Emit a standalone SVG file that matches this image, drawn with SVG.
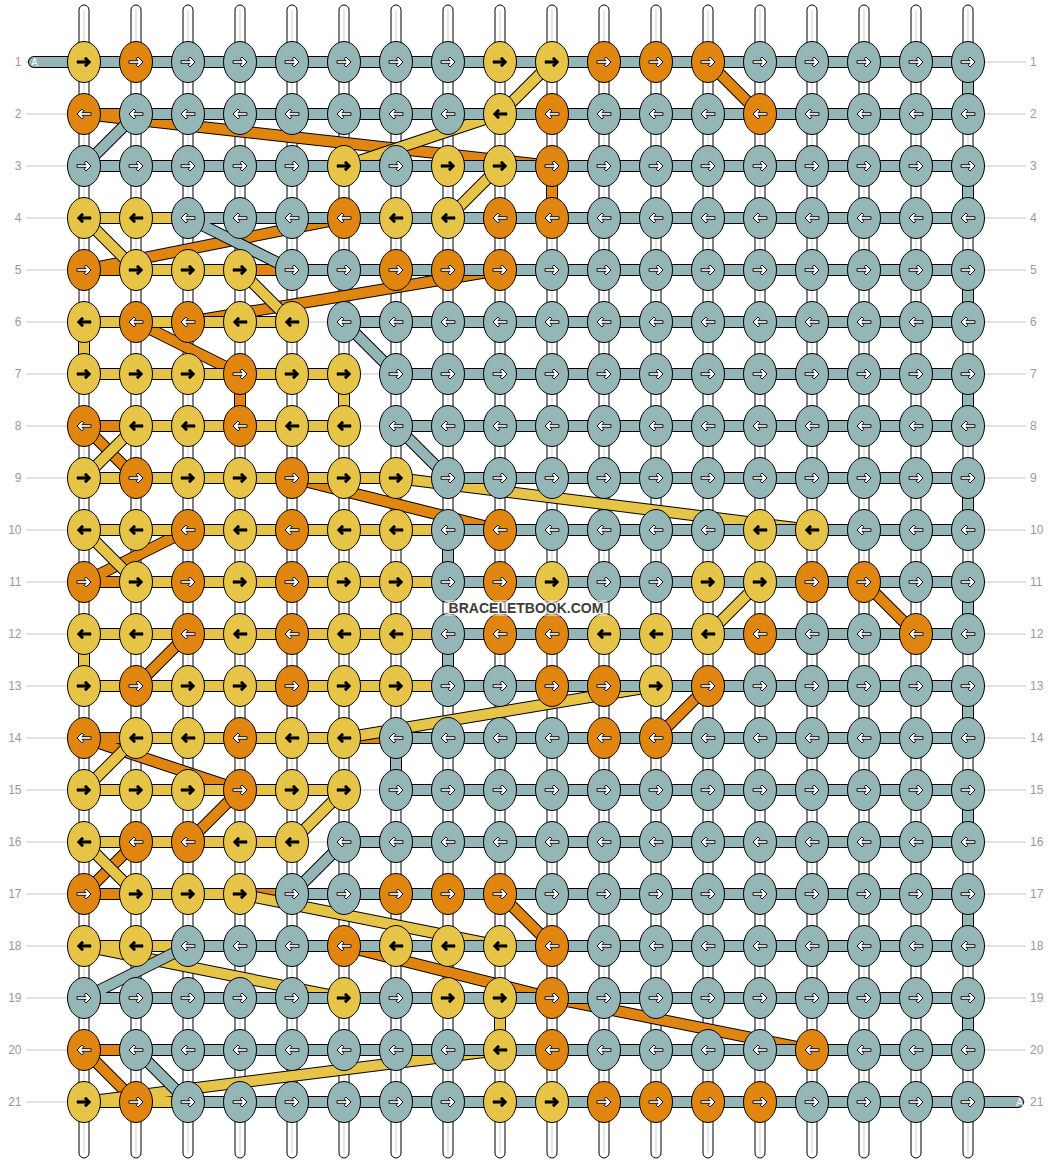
<svg xmlns="http://www.w3.org/2000/svg" xmlns:xlink="http://www.w3.org/1999/xlink" width="1052" height="1164" viewBox="0 0 1052 1164">
<style>
.guide{stroke:#c4c4c4;stroke-width:1}
.lbl{font-family:"Liberation Sans",Arial,sans-serif;font-size:12px;fill:#999}
.str{fill:#fff;stroke:#000;stroke-width:1}
.strc{stroke:#cfcfcf;stroke-width:1}
.to{fill:none;stroke:#000;stroke-width:12;stroke-linejoin:round}
.tf{fill:none;stroke-width:10;stroke-linejoin:round}
.ty{stroke:#E6C447}
.tor{stroke:#E0850F}
.tg{stroke:#95B6B7}
.cap{stroke-linecap:round}
.alab{font-family:"Liberation Sans",Arial,sans-serif;font-size:10px;fill:#fff}
.wm{font-family:"Liberation Sans",Arial,sans-serif;font-size:14px;font-weight:bold;fill:#3c3c3c;stroke:#fff;stroke-width:2;paint-order:stroke}
</style>
<defs>
<ellipse id="e" rx="16.5" ry="20.5" stroke="#000" stroke-width="1"/>
<polygon id="ar" points="-7,-1.3 2.02,-1.3 0.16,-3.16 2,-5 7,0 2,5 0.16,3.16 2.02,1.3 -7,1.3"/>
<polygon id="al" points="7,-1.3 -2.02,-1.3 -0.16,-3.16 -2,-5 -7,0 -2,5 -0.16,3.16 -2.02,1.3 7,1.3"/>
<g id="Yr"><use href="#e" fill="#E6C447"/><use href="#ar" fill="#000" stroke="#000" stroke-width="0.5"/></g>
<g id="Yl"><use href="#e" fill="#E6C447"/><use href="#al" fill="#000" stroke="#000" stroke-width="0.5"/></g>
<g id="Or"><use href="#e" fill="#E0850F"/><use href="#ar" fill="#fff" stroke="#000" stroke-width="0.9"/></g>
<g id="Ol"><use href="#e" fill="#E0850F"/><use href="#al" fill="#fff" stroke="#000" stroke-width="0.9"/></g>
<g id="Gr"><use href="#e" fill="#95B6B7"/><use href="#ar" fill="#fff" stroke="#000" stroke-width="0.9"/></g>
<g id="Gl"><use href="#e" fill="#95B6B7"/><use href="#al" fill="#fff" stroke="#000" stroke-width="0.9"/></g>
</defs>
<rect width="1052" height="1164" fill="#fff"/>
<g id="guides">
<line class="guide" x1="26" x2="1026" y1="62" y2="62"/><line class="guide" x1="26" x2="1026" y1="114" y2="114"/><line class="guide" x1="26" x2="1026" y1="166" y2="166"/><line class="guide" x1="26" x2="1026" y1="218" y2="218"/><line class="guide" x1="26" x2="1026" y1="270" y2="270"/><line class="guide" x1="26" x2="1026" y1="322" y2="322"/><line class="guide" x1="26" x2="1026" y1="374" y2="374"/><line class="guide" x1="26" x2="1026" y1="426" y2="426"/><line class="guide" x1="26" x2="1026" y1="478" y2="478"/><line class="guide" x1="26" x2="1026" y1="530" y2="530"/><line class="guide" x1="26" x2="1026" y1="582" y2="582"/><line class="guide" x1="26" x2="1026" y1="634" y2="634"/><line class="guide" x1="26" x2="1026" y1="686" y2="686"/><line class="guide" x1="26" x2="1026" y1="738" y2="738"/><line class="guide" x1="26" x2="1026" y1="790" y2="790"/><line class="guide" x1="26" x2="1026" y1="842" y2="842"/><line class="guide" x1="26" x2="1026" y1="894" y2="894"/><line class="guide" x1="26" x2="1026" y1="946" y2="946"/><line class="guide" x1="26" x2="1026" y1="998" y2="998"/><line class="guide" x1="26" x2="1026" y1="1050" y2="1050"/><line class="guide" x1="26" x2="1026" y1="1102" y2="1102"/>
</g>
<g id="labels">
<text class="lbl" text-anchor="end" x="21.5" y="66.3">1</text><text class="lbl" text-anchor="end" x="21.5" y="118.3">2</text><text class="lbl" text-anchor="end" x="21.5" y="170.3">3</text><text class="lbl" text-anchor="end" x="21.5" y="222.3">4</text><text class="lbl" text-anchor="end" x="21.5" y="274.3">5</text><text class="lbl" text-anchor="end" x="21.5" y="326.3">6</text><text class="lbl" text-anchor="end" x="21.5" y="378.3">7</text><text class="lbl" text-anchor="end" x="21.5" y="430.3">8</text><text class="lbl" text-anchor="end" x="21.5" y="482.3">9</text><text class="lbl" text-anchor="end" x="21.5" y="534.3">10</text><text class="lbl" text-anchor="end" x="21.5" y="586.3">11</text><text class="lbl" text-anchor="end" x="21.5" y="638.3">12</text><text class="lbl" text-anchor="end" x="21.5" y="690.3">13</text><text class="lbl" text-anchor="end" x="21.5" y="742.3">14</text><text class="lbl" text-anchor="end" x="21.5" y="794.3">15</text><text class="lbl" text-anchor="end" x="21.5" y="846.3">16</text><text class="lbl" text-anchor="end" x="21.5" y="898.3">17</text><text class="lbl" text-anchor="end" x="21.5" y="950.3">18</text><text class="lbl" text-anchor="end" x="21.5" y="1002.3">19</text><text class="lbl" text-anchor="end" x="21.5" y="1054.3">20</text><text class="lbl" text-anchor="end" x="21.5" y="1106.3">21</text>
<text class="lbl" x="1030" y="66.3">1</text><text class="lbl" x="1030" y="118.3">2</text><text class="lbl" x="1030" y="170.3">3</text><text class="lbl" x="1030" y="222.3">4</text><text class="lbl" x="1030" y="274.3">5</text><text class="lbl" x="1030" y="326.3">6</text><text class="lbl" x="1030" y="378.3">7</text><text class="lbl" x="1030" y="430.3">8</text><text class="lbl" x="1030" y="482.3">9</text><text class="lbl" x="1030" y="534.3">10</text><text class="lbl" x="1030" y="586.3">11</text><text class="lbl" x="1030" y="638.3">12</text><text class="lbl" x="1030" y="690.3">13</text><text class="lbl" x="1030" y="742.3">14</text><text class="lbl" x="1030" y="794.3">15</text><text class="lbl" x="1030" y="846.3">16</text><text class="lbl" x="1030" y="898.3">17</text><text class="lbl" x="1030" y="950.3">18</text><text class="lbl" x="1030" y="1002.3">19</text><text class="lbl" x="1030" y="1054.3">20</text><text class="lbl" x="1030" y="1106.3">21</text>
</g>
<g id="strings">
<rect class="str" x="79" y="5" width="10" height="1153" rx="5"/><rect class="str" x="131" y="5" width="10" height="1153" rx="5"/><rect class="str" x="183" y="5" width="10" height="1153" rx="5"/><rect class="str" x="235" y="5" width="10" height="1153" rx="5"/><rect class="str" x="287" y="5" width="10" height="1153" rx="5"/><rect class="str" x="339" y="5" width="10" height="1153" rx="5"/><rect class="str" x="391" y="5" width="10" height="1153" rx="5"/><rect class="str" x="443" y="5" width="10" height="1153" rx="5"/><rect class="str" x="495" y="5" width="10" height="1153" rx="5"/><rect class="str" x="547" y="5" width="10" height="1153" rx="5"/><rect class="str" x="599" y="5" width="10" height="1153" rx="5"/><rect class="str" x="651" y="5" width="10" height="1153" rx="5"/><rect class="str" x="703" y="5" width="10" height="1153" rx="5"/><rect class="str" x="755" y="5" width="10" height="1153" rx="5"/><rect class="str" x="807" y="5" width="10" height="1153" rx="5"/><rect class="str" x="859" y="5" width="10" height="1153" rx="5"/><rect class="str" x="911" y="5" width="10" height="1153" rx="5"/><rect class="str" x="963" y="5" width="10" height="1153" rx="5"/>
<path class="strc" d="M84,10V1153M136,10V1153M188,10V1153M240,10V1153M292,10V1153M344,10V1153M396,10V1153M448,10V1153M500,10V1153M552,10V1153M604,10V1153M656,10V1153M708,10V1153M760,10V1153M812,10V1153M864,10V1153M916,10V1153M968,10V1153"/>
</g>
<g id="connectors">
<polyline class="to" points="136,62 708,62 760,114 84,114 552,166 552,218 344,218 84,270 500,270 188,322 136,322 240,374 240,426 84,426 136,478 292,478 500,530 188,530 84,582 864,582 916,634 188,634 136,686 708,686 656,738 84,738 240,790 188,842 136,842 84,894 500,894 552,946 344,946 552,998 812,1050 84,1050 136,1102 760,1102"/>
<polyline class="tf tor" points="136,62 708,62 760,114 84,114 552,166 552,218 344,218 84,270 500,270 188,322 136,322 240,374 240,426 84,426 136,478 292,478 500,530 188,530 84,582 864,582 916,634 188,634 136,686 708,686 656,738 84,738 240,790 188,842 136,842 84,894 500,894 552,946 344,946 552,998 812,1050 84,1050 136,1102 760,1102"/>
<polyline class="to" points="84,62 552,62 500,114 344,166 500,166 448,218 84,218 136,270 240,270 292,322 84,322 84,374 344,374 344,426 136,426 84,478 396,478 812,530 84,530 136,582 760,582 708,634 84,634 84,686 656,686 344,738 136,738 84,790 344,790 292,842 84,842 136,894 240,894 500,946 84,946 344,998 500,998 500,1050 84,1102 552,1102"/>
<polyline class="tf ty" points="84,62 552,62 500,114 344,166 500,166 448,218 84,218 136,270 240,270 292,322 84,322 84,374 344,374 344,426 136,426 84,478 396,478 812,530 84,530 136,582 760,582 708,634 84,634 84,686 656,686 344,738 136,738 84,790 344,790 292,842 84,842 136,894 240,894 500,946 84,946 344,998 500,998 500,1050 84,1102 552,1102"/>
<polyline class="to cap" points="34,62 968,62 968,114 136,114 84,166 968,166 968,218 188,218 292,270 968,270 968,322 344,322 396,374 968,374 968,426 396,426 448,478 968,478 968,530 448,530 448,582 968,582 968,634 448,634 448,686 968,686 968,738 396,738 396,790 968,790 968,842 344,842 292,894 968,894 968,946 188,946 84,998 968,998 968,1050 136,1050 188,1102 1018,1102"/>
<polyline class="tf tg cap" points="34,62 968,62 968,114 136,114 84,166 968,166 968,218 188,218 292,270 968,270 968,322 344,322 396,374 968,374 968,426 396,426 448,478 968,478 968,530 448,530 448,582 968,582 968,634 448,634 448,686 968,686 968,738 396,738 396,790 968,790 968,842 344,842 292,894 968,894 968,946 188,946 84,998 968,998 968,1050 136,1050 188,1102 1018,1102"/>
<text class="alab" x="34.5" y="65.7" text-anchor="middle">A</text>
<text class="alab" x="1019.5" y="1105.7" text-anchor="middle">A</text>
</g>
<g id="nodes">
<g id="k1-1"><use href="#Yr" x="84" y="62"/></g><g id="k1-2"><use href="#Or" x="136" y="62"/></g><g id="k1-3"><use href="#Gr" x="188" y="62"/></g><g id="k1-4"><use href="#Gr" x="240" y="62"/></g><g id="k1-5"><use href="#Gr" x="292" y="62"/></g><g id="k1-6"><use href="#Gr" x="344" y="62"/></g><g id="k1-7"><use href="#Gr" x="396" y="62"/></g><g id="k1-8"><use href="#Gr" x="448" y="62"/></g><g id="k1-9"><use href="#Yr" x="500" y="62"/></g><g id="k1-10"><use href="#Yr" x="552" y="62"/></g><g id="k1-11"><use href="#Or" x="604" y="62"/></g><g id="k1-12"><use href="#Or" x="656" y="62"/></g><g id="k1-13"><use href="#Or" x="708" y="62"/></g><g id="k1-14"><use href="#Gr" x="760" y="62"/></g><g id="k1-15"><use href="#Gr" x="812" y="62"/></g><g id="k1-16"><use href="#Gr" x="864" y="62"/></g><g id="k1-17"><use href="#Gr" x="916" y="62"/></g><g id="k1-18"><use href="#Gr" x="968" y="62"/></g>
<g id="k2-1"><use href="#Ol" x="84" y="114"/></g><g id="k2-2"><use href="#Gl" x="136" y="114"/></g><g id="k2-3"><use href="#Gl" x="188" y="114"/></g><g id="k2-4"><use href="#Gl" x="240" y="114"/></g><g id="k2-5"><use href="#Gl" x="292" y="114"/></g><g id="k2-6"><use href="#Gl" x="344" y="114"/></g><g id="k2-7"><use href="#Gl" x="396" y="114"/></g><g id="k2-8"><use href="#Gl" x="448" y="114"/></g><g id="k2-9"><use href="#Yl" x="500" y="114"/></g><g id="k2-10"><use href="#Ol" x="552" y="114"/></g><g id="k2-11"><use href="#Gl" x="604" y="114"/></g><g id="k2-12"><use href="#Gl" x="656" y="114"/></g><g id="k2-13"><use href="#Gl" x="708" y="114"/></g><g id="k2-14"><use href="#Ol" x="760" y="114"/></g><g id="k2-15"><use href="#Gl" x="812" y="114"/></g><g id="k2-16"><use href="#Gl" x="864" y="114"/></g><g id="k2-17"><use href="#Gl" x="916" y="114"/></g><g id="k2-18"><use href="#Gl" x="968" y="114"/></g>
<g id="k3-1"><use href="#Gr" x="84" y="166"/></g><g id="k3-2"><use href="#Gr" x="136" y="166"/></g><g id="k3-3"><use href="#Gr" x="188" y="166"/></g><g id="k3-4"><use href="#Gr" x="240" y="166"/></g><g id="k3-5"><use href="#Gr" x="292" y="166"/></g><g id="k3-6"><use href="#Yr" x="344" y="166"/></g><g id="k3-7"><use href="#Gr" x="396" y="166"/></g><g id="k3-8"><use href="#Yr" x="448" y="166"/></g><g id="k3-9"><use href="#Yr" x="500" y="166"/></g><g id="k3-10"><use href="#Or" x="552" y="166"/></g><g id="k3-11"><use href="#Gr" x="604" y="166"/></g><g id="k3-12"><use href="#Gr" x="656" y="166"/></g><g id="k3-13"><use href="#Gr" x="708" y="166"/></g><g id="k3-14"><use href="#Gr" x="760" y="166"/></g><g id="k3-15"><use href="#Gr" x="812" y="166"/></g><g id="k3-16"><use href="#Gr" x="864" y="166"/></g><g id="k3-17"><use href="#Gr" x="916" y="166"/></g><g id="k3-18"><use href="#Gr" x="968" y="166"/></g>
<g id="k4-1"><use href="#Yl" x="84" y="218"/></g><g id="k4-2"><use href="#Yl" x="136" y="218"/></g><g id="k4-3"><use href="#Gl" x="188" y="218"/></g><g id="k4-4"><use href="#Gl" x="240" y="218"/></g><g id="k4-5"><use href="#Gl" x="292" y="218"/></g><g id="k4-6"><use href="#Ol" x="344" y="218"/></g><g id="k4-7"><use href="#Yl" x="396" y="218"/></g><g id="k4-8"><use href="#Yl" x="448" y="218"/></g><g id="k4-9"><use href="#Ol" x="500" y="218"/></g><g id="k4-10"><use href="#Ol" x="552" y="218"/></g><g id="k4-11"><use href="#Gl" x="604" y="218"/></g><g id="k4-12"><use href="#Gl" x="656" y="218"/></g><g id="k4-13"><use href="#Gl" x="708" y="218"/></g><g id="k4-14"><use href="#Gl" x="760" y="218"/></g><g id="k4-15"><use href="#Gl" x="812" y="218"/></g><g id="k4-16"><use href="#Gl" x="864" y="218"/></g><g id="k4-17"><use href="#Gl" x="916" y="218"/></g><g id="k4-18"><use href="#Gl" x="968" y="218"/></g>
<g id="k5-1"><use href="#Or" x="84" y="270"/></g><g id="k5-2"><use href="#Yr" x="136" y="270"/></g><g id="k5-3"><use href="#Yr" x="188" y="270"/></g><g id="k5-4"><use href="#Yr" x="240" y="270"/></g><g id="k5-5"><use href="#Gr" x="292" y="270"/></g><g id="k5-6"><use href="#Gr" x="344" y="270"/></g><g id="k5-7"><use href="#Or" x="396" y="270"/></g><g id="k5-8"><use href="#Or" x="448" y="270"/></g><g id="k5-9"><use href="#Or" x="500" y="270"/></g><g id="k5-10"><use href="#Gr" x="552" y="270"/></g><g id="k5-11"><use href="#Gr" x="604" y="270"/></g><g id="k5-12"><use href="#Gr" x="656" y="270"/></g><g id="k5-13"><use href="#Gr" x="708" y="270"/></g><g id="k5-14"><use href="#Gr" x="760" y="270"/></g><g id="k5-15"><use href="#Gr" x="812" y="270"/></g><g id="k5-16"><use href="#Gr" x="864" y="270"/></g><g id="k5-17"><use href="#Gr" x="916" y="270"/></g><g id="k5-18"><use href="#Gr" x="968" y="270"/></g>
<g id="k6-1"><use href="#Yl" x="84" y="322"/></g><g id="k6-2"><use href="#Ol" x="136" y="322"/></g><g id="k6-3"><use href="#Ol" x="188" y="322"/></g><g id="k6-4"><use href="#Yl" x="240" y="322"/></g><g id="k6-5"><use href="#Yl" x="292" y="322"/></g><g id="k6-6"><use href="#Gl" x="344" y="322"/></g><g id="k6-7"><use href="#Gl" x="396" y="322"/></g><g id="k6-8"><use href="#Gl" x="448" y="322"/></g><g id="k6-9"><use href="#Gl" x="500" y="322"/></g><g id="k6-10"><use href="#Gl" x="552" y="322"/></g><g id="k6-11"><use href="#Gl" x="604" y="322"/></g><g id="k6-12"><use href="#Gl" x="656" y="322"/></g><g id="k6-13"><use href="#Gl" x="708" y="322"/></g><g id="k6-14"><use href="#Gl" x="760" y="322"/></g><g id="k6-15"><use href="#Gl" x="812" y="322"/></g><g id="k6-16"><use href="#Gl" x="864" y="322"/></g><g id="k6-17"><use href="#Gl" x="916" y="322"/></g><g id="k6-18"><use href="#Gl" x="968" y="322"/></g>
<g id="k7-1"><use href="#Yr" x="84" y="374"/></g><g id="k7-2"><use href="#Yr" x="136" y="374"/></g><g id="k7-3"><use href="#Yr" x="188" y="374"/></g><g id="k7-4"><use href="#Or" x="240" y="374"/></g><g id="k7-5"><use href="#Yr" x="292" y="374"/></g><g id="k7-6"><use href="#Yr" x="344" y="374"/></g><g id="k7-7"><use href="#Gr" x="396" y="374"/></g><g id="k7-8"><use href="#Gr" x="448" y="374"/></g><g id="k7-9"><use href="#Gr" x="500" y="374"/></g><g id="k7-10"><use href="#Gr" x="552" y="374"/></g><g id="k7-11"><use href="#Gr" x="604" y="374"/></g><g id="k7-12"><use href="#Gr" x="656" y="374"/></g><g id="k7-13"><use href="#Gr" x="708" y="374"/></g><g id="k7-14"><use href="#Gr" x="760" y="374"/></g><g id="k7-15"><use href="#Gr" x="812" y="374"/></g><g id="k7-16"><use href="#Gr" x="864" y="374"/></g><g id="k7-17"><use href="#Gr" x="916" y="374"/></g><g id="k7-18"><use href="#Gr" x="968" y="374"/></g>
<g id="k8-1"><use href="#Ol" x="84" y="426"/></g><g id="k8-2"><use href="#Yl" x="136" y="426"/></g><g id="k8-3"><use href="#Yl" x="188" y="426"/></g><g id="k8-4"><use href="#Ol" x="240" y="426"/></g><g id="k8-5"><use href="#Yl" x="292" y="426"/></g><g id="k8-6"><use href="#Yl" x="344" y="426"/></g><g id="k8-7"><use href="#Gl" x="396" y="426"/></g><g id="k8-8"><use href="#Gl" x="448" y="426"/></g><g id="k8-9"><use href="#Gl" x="500" y="426"/></g><g id="k8-10"><use href="#Gl" x="552" y="426"/></g><g id="k8-11"><use href="#Gl" x="604" y="426"/></g><g id="k8-12"><use href="#Gl" x="656" y="426"/></g><g id="k8-13"><use href="#Gl" x="708" y="426"/></g><g id="k8-14"><use href="#Gl" x="760" y="426"/></g><g id="k8-15"><use href="#Gl" x="812" y="426"/></g><g id="k8-16"><use href="#Gl" x="864" y="426"/></g><g id="k8-17"><use href="#Gl" x="916" y="426"/></g><g id="k8-18"><use href="#Gl" x="968" y="426"/></g>
<g id="k9-1"><use href="#Yr" x="84" y="478"/></g><g id="k9-2"><use href="#Or" x="136" y="478"/></g><g id="k9-3"><use href="#Yr" x="188" y="478"/></g><g id="k9-4"><use href="#Yr" x="240" y="478"/></g><g id="k9-5"><use href="#Or" x="292" y="478"/></g><g id="k9-6"><use href="#Yr" x="344" y="478"/></g><g id="k9-7"><use href="#Yr" x="396" y="478"/></g><g id="k9-8"><use href="#Gr" x="448" y="478"/></g><g id="k9-9"><use href="#Gr" x="500" y="478"/></g><g id="k9-10"><use href="#Gr" x="552" y="478"/></g><g id="k9-11"><use href="#Gr" x="604" y="478"/></g><g id="k9-12"><use href="#Gr" x="656" y="478"/></g><g id="k9-13"><use href="#Gr" x="708" y="478"/></g><g id="k9-14"><use href="#Gr" x="760" y="478"/></g><g id="k9-15"><use href="#Gr" x="812" y="478"/></g><g id="k9-16"><use href="#Gr" x="864" y="478"/></g><g id="k9-17"><use href="#Gr" x="916" y="478"/></g><g id="k9-18"><use href="#Gr" x="968" y="478"/></g>
<g id="k10-1"><use href="#Yl" x="84" y="530"/></g><g id="k10-2"><use href="#Yl" x="136" y="530"/></g><g id="k10-3"><use href="#Ol" x="188" y="530"/></g><g id="k10-4"><use href="#Yl" x="240" y="530"/></g><g id="k10-5"><use href="#Ol" x="292" y="530"/></g><g id="k10-6"><use href="#Yl" x="344" y="530"/></g><g id="k10-7"><use href="#Yl" x="396" y="530"/></g><g id="k10-8"><use href="#Gl" x="448" y="530"/></g><g id="k10-9"><use href="#Ol" x="500" y="530"/></g><g id="k10-10"><use href="#Gl" x="552" y="530"/></g><g id="k10-11"><use href="#Gl" x="604" y="530"/></g><g id="k10-12"><use href="#Gl" x="656" y="530"/></g><g id="k10-13"><use href="#Gl" x="708" y="530"/></g><g id="k10-14"><use href="#Yl" x="760" y="530"/></g><g id="k10-15"><use href="#Yl" x="812" y="530"/></g><g id="k10-16"><use href="#Gl" x="864" y="530"/></g><g id="k10-17"><use href="#Gl" x="916" y="530"/></g><g id="k10-18"><use href="#Gl" x="968" y="530"/></g>
<g id="k11-1"><use href="#Or" x="84" y="582"/></g><g id="k11-2"><use href="#Yr" x="136" y="582"/></g><g id="k11-3"><use href="#Or" x="188" y="582"/></g><g id="k11-4"><use href="#Yr" x="240" y="582"/></g><g id="k11-5"><use href="#Or" x="292" y="582"/></g><g id="k11-6"><use href="#Yr" x="344" y="582"/></g><g id="k11-7"><use href="#Yr" x="396" y="582"/></g><g id="k11-8"><use href="#Gr" x="448" y="582"/></g><g id="k11-9"><use href="#Or" x="500" y="582"/></g><g id="k11-10"><use href="#Yr" x="552" y="582"/></g><g id="k11-11"><use href="#Gr" x="604" y="582"/></g><g id="k11-12"><use href="#Gr" x="656" y="582"/></g><g id="k11-13"><use href="#Yr" x="708" y="582"/></g><g id="k11-14"><use href="#Yr" x="760" y="582"/></g><g id="k11-15"><use href="#Or" x="812" y="582"/></g><g id="k11-16"><use href="#Or" x="864" y="582"/></g><g id="k11-17"><use href="#Gr" x="916" y="582"/></g><g id="k11-18"><use href="#Gr" x="968" y="582"/></g>
<g id="k12-1"><use href="#Yl" x="84" y="634"/></g><g id="k12-2"><use href="#Yl" x="136" y="634"/></g><g id="k12-3"><use href="#Ol" x="188" y="634"/></g><g id="k12-4"><use href="#Yl" x="240" y="634"/></g><g id="k12-5"><use href="#Ol" x="292" y="634"/></g><g id="k12-6"><use href="#Yl" x="344" y="634"/></g><g id="k12-7"><use href="#Yl" x="396" y="634"/></g><g id="k12-8"><use href="#Gl" x="448" y="634"/></g><g id="k12-9"><use href="#Ol" x="500" y="634"/></g><g id="k12-10"><use href="#Ol" x="552" y="634"/></g><g id="k12-11"><use href="#Yl" x="604" y="634"/></g><g id="k12-12"><use href="#Yl" x="656" y="634"/></g><g id="k12-13"><use href="#Yl" x="708" y="634"/></g><g id="k12-14"><use href="#Ol" x="760" y="634"/></g><g id="k12-15"><use href="#Gl" x="812" y="634"/></g><g id="k12-16"><use href="#Gl" x="864" y="634"/></g><g id="k12-17"><use href="#Ol" x="916" y="634"/></g><g id="k12-18"><use href="#Gl" x="968" y="634"/></g>
<g id="k13-1"><use href="#Yr" x="84" y="686"/></g><g id="k13-2"><use href="#Or" x="136" y="686"/></g><g id="k13-3"><use href="#Yr" x="188" y="686"/></g><g id="k13-4"><use href="#Yr" x="240" y="686"/></g><g id="k13-5"><use href="#Or" x="292" y="686"/></g><g id="k13-6"><use href="#Yr" x="344" y="686"/></g><g id="k13-7"><use href="#Yr" x="396" y="686"/></g><g id="k13-8"><use href="#Gr" x="448" y="686"/></g><g id="k13-9"><use href="#Gr" x="500" y="686"/></g><g id="k13-10"><use href="#Or" x="552" y="686"/></g><g id="k13-11"><use href="#Or" x="604" y="686"/></g><g id="k13-12"><use href="#Yr" x="656" y="686"/></g><g id="k13-13"><use href="#Or" x="708" y="686"/></g><g id="k13-14"><use href="#Gr" x="760" y="686"/></g><g id="k13-15"><use href="#Gr" x="812" y="686"/></g><g id="k13-16"><use href="#Gr" x="864" y="686"/></g><g id="k13-17"><use href="#Gr" x="916" y="686"/></g><g id="k13-18"><use href="#Gr" x="968" y="686"/></g>
<g id="k14-1"><use href="#Ol" x="84" y="738"/></g><g id="k14-2"><use href="#Yl" x="136" y="738"/></g><g id="k14-3"><use href="#Yl" x="188" y="738"/></g><g id="k14-4"><use href="#Ol" x="240" y="738"/></g><g id="k14-5"><use href="#Yl" x="292" y="738"/></g><g id="k14-6"><use href="#Yl" x="344" y="738"/></g><g id="k14-7"><use href="#Gl" x="396" y="738"/></g><g id="k14-8"><use href="#Gl" x="448" y="738"/></g><g id="k14-9"><use href="#Gl" x="500" y="738"/></g><g id="k14-10"><use href="#Gl" x="552" y="738"/></g><g id="k14-11"><use href="#Ol" x="604" y="738"/></g><g id="k14-12"><use href="#Ol" x="656" y="738"/></g><g id="k14-13"><use href="#Gl" x="708" y="738"/></g><g id="k14-14"><use href="#Gl" x="760" y="738"/></g><g id="k14-15"><use href="#Gl" x="812" y="738"/></g><g id="k14-16"><use href="#Gl" x="864" y="738"/></g><g id="k14-17"><use href="#Gl" x="916" y="738"/></g><g id="k14-18"><use href="#Gl" x="968" y="738"/></g>
<g id="k15-1"><use href="#Yr" x="84" y="790"/></g><g id="k15-2"><use href="#Yr" x="136" y="790"/></g><g id="k15-3"><use href="#Yr" x="188" y="790"/></g><g id="k15-4"><use href="#Or" x="240" y="790"/></g><g id="k15-5"><use href="#Yr" x="292" y="790"/></g><g id="k15-6"><use href="#Yr" x="344" y="790"/></g><g id="k15-7"><use href="#Gr" x="396" y="790"/></g><g id="k15-8"><use href="#Gr" x="448" y="790"/></g><g id="k15-9"><use href="#Gr" x="500" y="790"/></g><g id="k15-10"><use href="#Gr" x="552" y="790"/></g><g id="k15-11"><use href="#Gr" x="604" y="790"/></g><g id="k15-12"><use href="#Gr" x="656" y="790"/></g><g id="k15-13"><use href="#Gr" x="708" y="790"/></g><g id="k15-14"><use href="#Gr" x="760" y="790"/></g><g id="k15-15"><use href="#Gr" x="812" y="790"/></g><g id="k15-16"><use href="#Gr" x="864" y="790"/></g><g id="k15-17"><use href="#Gr" x="916" y="790"/></g><g id="k15-18"><use href="#Gr" x="968" y="790"/></g>
<g id="k16-1"><use href="#Yl" x="84" y="842"/></g><g id="k16-2"><use href="#Ol" x="136" y="842"/></g><g id="k16-3"><use href="#Ol" x="188" y="842"/></g><g id="k16-4"><use href="#Yl" x="240" y="842"/></g><g id="k16-5"><use href="#Yl" x="292" y="842"/></g><g id="k16-6"><use href="#Gl" x="344" y="842"/></g><g id="k16-7"><use href="#Gl" x="396" y="842"/></g><g id="k16-8"><use href="#Gl" x="448" y="842"/></g><g id="k16-9"><use href="#Gl" x="500" y="842"/></g><g id="k16-10"><use href="#Gl" x="552" y="842"/></g><g id="k16-11"><use href="#Gl" x="604" y="842"/></g><g id="k16-12"><use href="#Gl" x="656" y="842"/></g><g id="k16-13"><use href="#Gl" x="708" y="842"/></g><g id="k16-14"><use href="#Gl" x="760" y="842"/></g><g id="k16-15"><use href="#Gl" x="812" y="842"/></g><g id="k16-16"><use href="#Gl" x="864" y="842"/></g><g id="k16-17"><use href="#Gl" x="916" y="842"/></g><g id="k16-18"><use href="#Gl" x="968" y="842"/></g>
<g id="k17-1"><use href="#Or" x="84" y="894"/></g><g id="k17-2"><use href="#Yr" x="136" y="894"/></g><g id="k17-3"><use href="#Yr" x="188" y="894"/></g><g id="k17-4"><use href="#Yr" x="240" y="894"/></g><g id="k17-5"><use href="#Gr" x="292" y="894"/></g><g id="k17-6"><use href="#Gr" x="344" y="894"/></g><g id="k17-7"><use href="#Or" x="396" y="894"/></g><g id="k17-8"><use href="#Or" x="448" y="894"/></g><g id="k17-9"><use href="#Or" x="500" y="894"/></g><g id="k17-10"><use href="#Gr" x="552" y="894"/></g><g id="k17-11"><use href="#Gr" x="604" y="894"/></g><g id="k17-12"><use href="#Gr" x="656" y="894"/></g><g id="k17-13"><use href="#Gr" x="708" y="894"/></g><g id="k17-14"><use href="#Gr" x="760" y="894"/></g><g id="k17-15"><use href="#Gr" x="812" y="894"/></g><g id="k17-16"><use href="#Gr" x="864" y="894"/></g><g id="k17-17"><use href="#Gr" x="916" y="894"/></g><g id="k17-18"><use href="#Gr" x="968" y="894"/></g>
<g id="k18-1"><use href="#Yl" x="84" y="946"/></g><g id="k18-2"><use href="#Yl" x="136" y="946"/></g><g id="k18-3"><use href="#Gl" x="188" y="946"/></g><g id="k18-4"><use href="#Gl" x="240" y="946"/></g><g id="k18-5"><use href="#Gl" x="292" y="946"/></g><g id="k18-6"><use href="#Ol" x="344" y="946"/></g><g id="k18-7"><use href="#Yl" x="396" y="946"/></g><g id="k18-8"><use href="#Yl" x="448" y="946"/></g><g id="k18-9"><use href="#Yl" x="500" y="946"/></g><g id="k18-10"><use href="#Ol" x="552" y="946"/></g><g id="k18-11"><use href="#Gl" x="604" y="946"/></g><g id="k18-12"><use href="#Gl" x="656" y="946"/></g><g id="k18-13"><use href="#Gl" x="708" y="946"/></g><g id="k18-14"><use href="#Gl" x="760" y="946"/></g><g id="k18-15"><use href="#Gl" x="812" y="946"/></g><g id="k18-16"><use href="#Gl" x="864" y="946"/></g><g id="k18-17"><use href="#Gl" x="916" y="946"/></g><g id="k18-18"><use href="#Gl" x="968" y="946"/></g>
<g id="k19-1"><use href="#Gr" x="84" y="998"/></g><g id="k19-2"><use href="#Gr" x="136" y="998"/></g><g id="k19-3"><use href="#Gr" x="188" y="998"/></g><g id="k19-4"><use href="#Gr" x="240" y="998"/></g><g id="k19-5"><use href="#Gr" x="292" y="998"/></g><g id="k19-6"><use href="#Yr" x="344" y="998"/></g><g id="k19-7"><use href="#Gr" x="396" y="998"/></g><g id="k19-8"><use href="#Yr" x="448" y="998"/></g><g id="k19-9"><use href="#Yr" x="500" y="998"/></g><g id="k19-10"><use href="#Or" x="552" y="998"/></g><g id="k19-11"><use href="#Gr" x="604" y="998"/></g><g id="k19-12"><use href="#Gr" x="656" y="998"/></g><g id="k19-13"><use href="#Gr" x="708" y="998"/></g><g id="k19-14"><use href="#Gr" x="760" y="998"/></g><g id="k19-15"><use href="#Gr" x="812" y="998"/></g><g id="k19-16"><use href="#Gr" x="864" y="998"/></g><g id="k19-17"><use href="#Gr" x="916" y="998"/></g><g id="k19-18"><use href="#Gr" x="968" y="998"/></g>
<g id="k20-1"><use href="#Ol" x="84" y="1050"/></g><g id="k20-2"><use href="#Gl" x="136" y="1050"/></g><g id="k20-3"><use href="#Gl" x="188" y="1050"/></g><g id="k20-4"><use href="#Gl" x="240" y="1050"/></g><g id="k20-5"><use href="#Gl" x="292" y="1050"/></g><g id="k20-6"><use href="#Gl" x="344" y="1050"/></g><g id="k20-7"><use href="#Gl" x="396" y="1050"/></g><g id="k20-8"><use href="#Gl" x="448" y="1050"/></g><g id="k20-9"><use href="#Yl" x="500" y="1050"/></g><g id="k20-10"><use href="#Ol" x="552" y="1050"/></g><g id="k20-11"><use href="#Gl" x="604" y="1050"/></g><g id="k20-12"><use href="#Gl" x="656" y="1050"/></g><g id="k20-13"><use href="#Gl" x="708" y="1050"/></g><g id="k20-14"><use href="#Gl" x="760" y="1050"/></g><g id="k20-15"><use href="#Ol" x="812" y="1050"/></g><g id="k20-16"><use href="#Gl" x="864" y="1050"/></g><g id="k20-17"><use href="#Gl" x="916" y="1050"/></g><g id="k20-18"><use href="#Gl" x="968" y="1050"/></g>
<g id="k21-1"><use href="#Yr" x="84" y="1102"/></g><g id="k21-2"><use href="#Or" x="136" y="1102"/></g><g id="k21-3"><use href="#Gr" x="188" y="1102"/></g><g id="k21-4"><use href="#Gr" x="240" y="1102"/></g><g id="k21-5"><use href="#Gr" x="292" y="1102"/></g><g id="k21-6"><use href="#Gr" x="344" y="1102"/></g><g id="k21-7"><use href="#Gr" x="396" y="1102"/></g><g id="k21-8"><use href="#Gr" x="448" y="1102"/></g><g id="k21-9"><use href="#Yr" x="500" y="1102"/></g><g id="k21-10"><use href="#Yr" x="552" y="1102"/></g><g id="k21-11"><use href="#Or" x="604" y="1102"/></g><g id="k21-12"><use href="#Or" x="656" y="1102"/></g><g id="k21-13"><use href="#Or" x="708" y="1102"/></g><g id="k21-14"><use href="#Or" x="760" y="1102"/></g><g id="k21-15"><use href="#Gr" x="812" y="1102"/></g><g id="k21-16"><use href="#Gr" x="864" y="1102"/></g><g id="k21-17"><use href="#Gr" x="916" y="1102"/></g><g id="k21-18"><use href="#Gr" x="968" y="1102"/></g>
</g>
<g id="watermark">
<rect x="445" y="600" width="162" height="16" fill="#fff" fill-opacity="0.45"/>
<text class="wm" x="526" y="613" text-anchor="middle">BRACELETBOOK.COM</text>
</g>
</svg>
